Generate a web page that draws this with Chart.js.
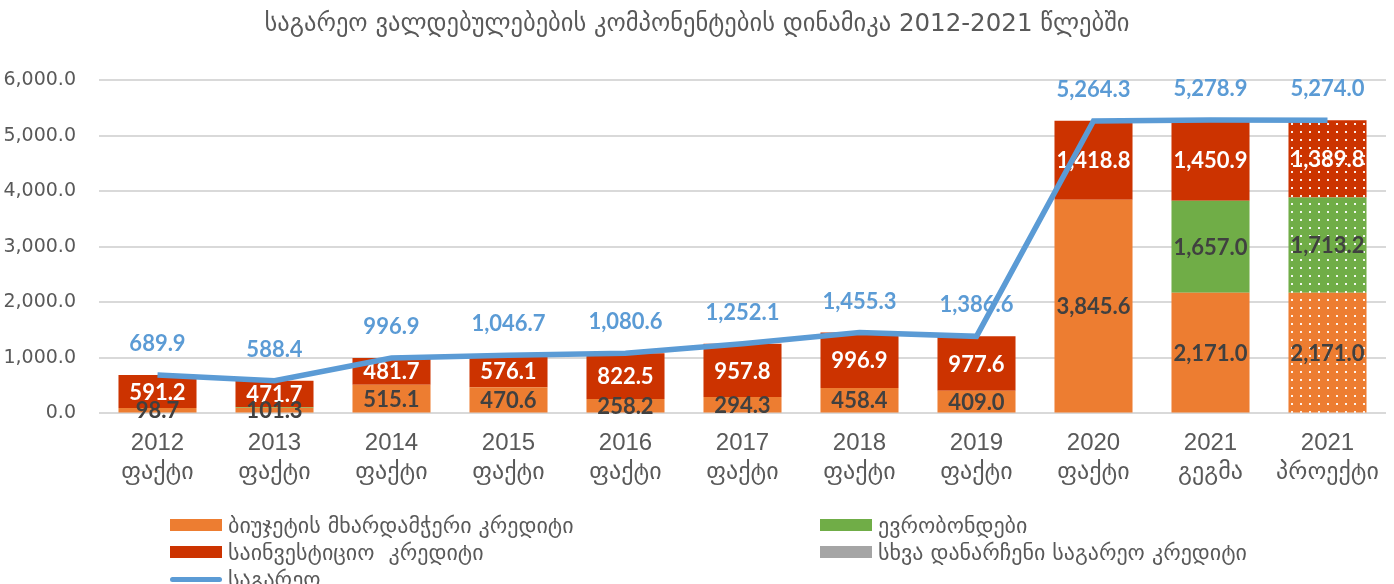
<!DOCTYPE html>
<html>
<head>
<meta charset="utf-8">
<script src="https://cdn.jsdelivr.net/npm/chart.js@4.4.1/dist/chart.umd.min.js"></script>
<style>
  html, body { margin: 0; padding: 0; background: #fff; }
  #wrap { position: relative; width: 1394px; height: 584px; overflow: hidden; }
  #title {
    position: absolute; left: 0; top: 8px; width: 1394px; text-align: center;
    font-family: "DejaVu Sans", sans-serif; font-size: 24.5px; color: #595959;
  }
  .lg { position: absolute; font-family: "DejaVu Sans", sans-serif; font-size: 22px; color: #595959;
        display: flex; align-items: center; white-space: pre; }
  .lg i { display: inline-block; width: 52px; height: 12px; margin-right: 6px; }
  .lg i.ln { height: 5px; border-radius: 3px; }
</style>
</head>
<body>
<div id="wrap">
  <canvas id="chart" width="1394" height="584"></canvas>
  <div id="title">საგარეო ვალდებულებების კომპონენტების დინამიკა 2012-2021 წლებში</div>
  <div id="legend"></div>
</div>
<script>
// ---------- Data ----------
const years = ["2012", "2013", "2014", "2015", "2016", "2017", "2018", "2019", "2020", "2021", "2021"];
const kinds = ["ფაქტი", "ფაქტი", "ფაქტი", "ფაქტი", "ფაქტი", "ფაქტი", "ფაქტი", "ფაქტი", "ფაქტი", "გეგმა", "პროექტი"];

const budgetSupport = [98.7, 101.3, 515.1, 470.6, 258.2, 294.3, 458.4, 409.0, 3845.6, 2171.0, 2171.0];
const eurobonds     = [0, 15.4, 0, 0, 0, 0, 0, 0, 0, 1657.0, 1713.2];
const investment    = [591.2, 471.7, 481.7, 576.1, 822.5, 957.8, 996.9, 977.6, 1418.8, 1450.9, 1389.8];
const otherCredits  = [0, 0, 0, 0, 0, 0, 0, 0, 0, 0, 0];
const externalTotal = [689.9, 588.4, 996.9, 1046.7, 1080.6, 1252.1, 1455.3, 1386.6, 5264.3, 5278.9, 5274.0];

const yTicks = [0, 1000, 2000, 3000, 4000, 5000, 6000];

const seriesNames = [
  "ბიუჯეტის მხარდამჭერი კრედიტი",
  "ევრობონდები",
  "საინვესტიციო  კრედიტი",
  "სხვა დანარჩენი საგარეო კრედიტი",
  "საგარეო"
];

// ---------- Colors ----------
const ORANGE = "#ED7D31";
const GREEN = "#70AD47";
const RED = "#CC3300";
const GREY = "#A5A5A5";
const BLUE = "#5B9BD5";

// dotted fill used for the last (projected) column
function dotted(color) {
  const c = document.createElement("canvas");
  c.width = 9; c.height = 8;
  const g = c.getContext("2d");
  g.fillStyle = color;
  g.fillRect(0, 0, 9, 8);
  g.fillStyle = "rgba(255,255,255,0.9)";
  g.fillRect(4, 3, 2, 2);
  return g.createPattern(c, "repeat");
}

function fills(color) {
  return years.map((_, i) => i === years.length - 1 ? dotted(color) : color);
}

const fmt = v => v.toLocaleString("en-US", { minimumFractionDigits: 1, maximumFractionDigits: 1 });

// ---------- Labels plugin ----------
const valueLabels = {
  id: "valueLabels",
  afterDatasetDraw(chart, args) {
    const ds = chart.data.datasets[args.index];
    const meta = args.meta;
    const ctx = chart.ctx;
    ctx.save();
    ctx.font = "bold 22px Lato, 'DejaVu Sans', sans-serif";
    ctx.textAlign = "center";
    ctx.textBaseline = "middle";
    meta.data.forEach((el, i) => {
      const v = ds.data[i];
      if (ds.type === "line") {
        ctx.fillStyle = BLUE;
        ctx.fillText(fmt(v), el.x, el.y - 31);
      } else if (v >= 50) {
        ctx.fillStyle = ds.labelColor;
        ctx.fillText(fmt(v), el.x, (el.y + el.base) / 2 + 1);
      }
    });
    ctx.restore();
  }
};

// ---------- Chart ----------
const labels = years.map((y, i) => [y, kinds[i]]);

new Chart(document.getElementById("chart"), {
  data: {
    labels: labels,
    datasets: [
      { type: "bar", label: seriesNames[0], data: budgetSupport, backgroundColor: fills(ORANGE), labelColor: "#404040", stack: "s", order: 1 },
      { type: "bar", label: seriesNames[1], data: eurobonds, backgroundColor: fills(GREEN), labelColor: "#404040", stack: "s", order: 1 },
      { type: "bar", label: seriesNames[2], data: investment, backgroundColor: fills(RED), labelColor: "#ffffff", stack: "s", order: 1 },
      { type: "bar", label: seriesNames[3], data: otherCredits, backgroundColor: fills(GREY), labelColor: "#404040", stack: "s", order: 1 },
      {
        type: "line", label: seriesNames[4], data: externalTotal, stack: "t", order: 0,
        borderColor: BLUE, borderWidth: 5.5, pointRadius: 0, tension: 0, fill: false
      }
    ]
  },
  options: {
    responsive: false,
    animation: false,
    layout: { padding: { top: 80, bottom: 89, left: 4, right: 8 } },
    datasets: { bar: { categoryPercentage: 1, barPercentage: 0.667 } },
    plugins: {
      legend: { display: false },
      tooltip: { enabled: false }
    },
    scales: {
      x: {
        stacked: true,
        grid: { display: false },
        border: { display: false },
        ticks: {
          color: "#595959",
          padding: 8,
          maxRotation: 0,
          autoSkip: false,
          font: { family: "'Liberation Sans', 'DejaVu Sans', sans-serif", size: 24, lineHeight: 1.2 }
        }
      },
      y: {
        stacked: true,
        min: 0,
        max: 6000,
        afterBuildTicks: axis => { axis.ticks = yTicks.map(v => ({ value: v })); },
        afterFit: axis => { axis.width = 95; },
        grid: { color: "#D9D9D9", lineWidth: 2, drawTicks: false },
        border: { display: false },
        ticks: {
          color: "#595959",
          padding: 23,
          callback: v => fmt(v),
          font: { family: "'DejaVu Sans', sans-serif", size: 19 }
        }
      }
    }
  },
  plugins: [valueLabels]
});

// ---------- Legend (two columns) ----------
const legendItems = [
  { name: seriesNames[0], color: ORANGE, x: 170, y: 525 },
  { name: seriesNames[1], color: GREEN, x: 820, y: 525 },
  { name: seriesNames[2], color: RED, x: 170, y: 552 },
  { name: seriesNames[3], color: GREY, x: 820, y: 552 },
  { name: seriesNames[4], color: BLUE, x: 170, y: 579, line: true }
];
const lg = document.getElementById("legend");
legendItems.forEach(it => {
  const d = document.createElement("div");
  d.className = "lg";
  d.style.left = it.x + "px";
  d.style.top = (it.y - 13) + "px";
  d.style.height = "26px";
  const m = document.createElement("i");
  if (it.line) m.className = "ln";
  m.style.background = it.color;
  d.appendChild(m);
  d.appendChild(document.createTextNode(it.name));
  lg.appendChild(d);
});
</script>
</body>
</html>
